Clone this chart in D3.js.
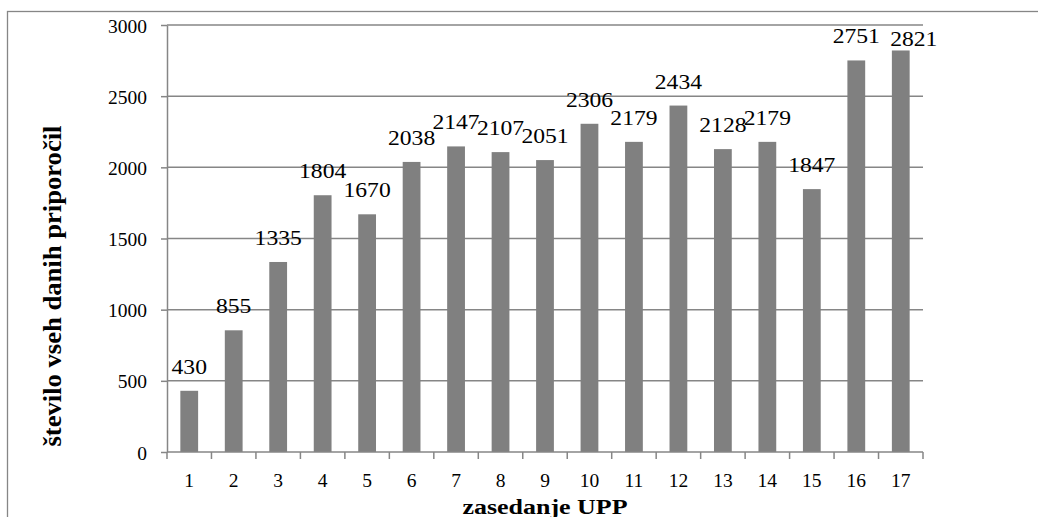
<!DOCTYPE html>
<html>
<head>
<meta charset="utf-8">
<script src="https://cdn.jsdelivr.net/npm/d3@7"></script>
<style>
  html, body { margin: 0; padding: 0; background: #fff; }
  svg { display: block; }
  svg text { font-family: "Liberation Serif", "Times New Roman", serif; fill: #000; }
</style>
</head>
<body>
<svg id="chart" width="1038" height="517"></svg>
<script>
// Session numbers and the count of recommendations given at each
const sessions = ["1","2","3","4","5","6","7","8","9","10","11","12","13","14","15","16","17"];
const recommendations = [430, 855, 1335, 1804, 1670, 2038, 2147, 2107, 2051, 2306, 2179, 2434, 2128, 2179, 1847, 2751, 2821];
const yTicks = [0, 500, 1000, 1500, 2000, 2500, 3000];
const xTitle = "zasedanje UPP";
const yTitle = "število vseh danih priporočil";

const svg = d3.select("#chart");
const W = 1038, H = 517;
const plot = { left: 167, right: 923, top: 25, bottom: 452 };
const gridColor = "#868686";
const barColor = "#808080";
const serif = "Liberation Serif, Times New Roman, serif";

// outer chart frame
svg.append("rect")
  .attr("x", 7.5).attr("y", 11.5)
  .attr("width", W).attr("height", H)
  .attr("fill", "none").attr("stroke", gridColor).attr("stroke-width", 1.3);

const x = d3.scaleBand()
  .domain(sessions)
  .range([plot.left, plot.right])
  .paddingInner(0.6)
  .paddingOuter(0.3);

const y = d3.scaleLinear()
  .domain([0, 3000])
  .range([plot.bottom, plot.top]);

// horizontal gridlines
svg.append("g")
  .selectAll("line")
  .data(yTicks.filter(t => t > 0))
  .join("line")
  .attr("x1", plot.left).attr("x2", plot.right)
  .attr("y1", d => y(d)).attr("y2", d => y(d))
  .attr("stroke", gridColor).attr("stroke-width", 1.5);

// y axis
const yAxis = svg.append("g")
  .attr("transform", `translate(${plot.left},0)`)
  .call(d3.axisLeft(y).tickValues(yTicks).tickFormat(d3.format("d"))
    .tickSize(6).tickPadding(14).tickSizeOuter(0));
yAxis.attr("font-family", serif);
yAxis.select(".domain").attr("stroke", gridColor).attr("stroke-width", 1.5);
yAxis.selectAll(".tick line").attr("stroke", gridColor).attr("stroke-width", 1.5);
yAxis.selectAll(".tick text")
  .attr("font-size", 19.5).attr("fill", "#000").attr("dy", "0.36em");

// bars
svg.append("g")
  .selectAll("rect")
  .data(recommendations)
  .join("rect")
  .attr("x", (d, i) => x(sessions[i]))
  .attr("y", d => y(d))
  .attr("width", x.bandwidth())
  .attr("height", d => y(0) - y(d))
  .attr("fill", barColor);

// x axis: ticks sit on the band boundaries
const step = x.step();
const boundaries = d3.range(sessions.length + 1).map(i => plot.left + i * step);
const xg = svg.append("g");
xg.append("line")
  .attr("x1", plot.left).attr("x2", plot.right)
  .attr("y1", plot.bottom).attr("y2", plot.bottom)
  .attr("stroke", gridColor).attr("stroke-width", 1.5);
xg.selectAll("line.tick")
  .data(boundaries)
  .join("line")
  .attr("class", "tick")
  .attr("x1", d => d).attr("x2", d => d)
  .attr("y1", plot.bottom).attr("y2", plot.bottom + 7)
  .attr("stroke", gridColor).attr("stroke-width", 1.5);
xg.selectAll("text")
  .data(sessions)
  .join("text")
  .attr("x", d => x(d) + x.bandwidth() / 2)
  .attr("y", 487)
  .attr("text-anchor", "middle")
  .attr("font-size", 19.5)
  .text(d => d);

// value labels above bars (slightly widened face); a label that would rise
// past the plot top is pulled down and moved beside its bar
svg.append("g")
  .selectAll("text")
  .data(recommendations)
  .join("text")
  .each(function (d, i) {
    const cx = x(sessions[i]) + x.bandwidth() / 2;
    let base = y(d) - 17;
    let dx = 0;
    if (base - 13 < plot.top) {
      base = y(d) - 4;
      dx = 13;
    }
    d3.select(this)
      .attr("transform", `translate(${cx + dx},${base}) scale(1.18,1)`)
      .attr("text-anchor", "middle")
      .attr("font-size", 20)
      .text(d);
  });

// axis titles
svg.append("text")
  .attr("x", (plot.left + plot.right) / 2)
  .attr("y", 514)
  .attr("text-anchor", "middle")
  .attr("font-size", 20.5)
  .attr("font-weight", "bold")
  .attr("textLength", 165)
  .attr("lengthAdjust", "spacingAndGlyphs")
  .text(xTitle);

svg.append("text")
  .attr("transform", "translate(61,286) rotate(-90)")
  .attr("text-anchor", "middle")
  .attr("font-size", 25)
  .attr("font-weight", "bold")
  .attr("textLength", 321)
  .attr("lengthAdjust", "spacingAndGlyphs")
  .text(yTitle);
</script>
</body>
</html>
